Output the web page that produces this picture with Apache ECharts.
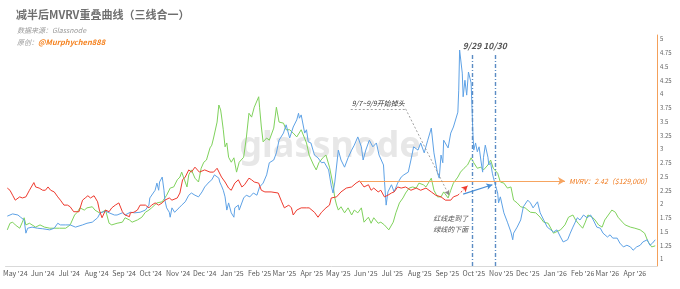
<!DOCTYPE html>
<html><head><meta charset="utf-8">
<script src="https://cdn.jsdelivr.net/npm/echarts@6/dist/echarts.min.js"></script>
<style>html,body{margin:0;padding:0;background:#fff}#c{width:680px;height:289px}</style>
</head><body><div id="c"></div>
<script>
// Days are counted from the 2024 halving (2024-04-20)
const HALVING = '2024-04-20';
const monthTicks = ['2024-05-01','2024-06-01','2024-07-01','2024-08-01','2024-09-01','2024-10-01','2024-11-01','2024-12-01',
  '2025-01-01','2025-02-01','2025-03-01','2025-04-01','2025-05-01','2025-06-01','2025-07-01','2025-08-01','2025-09-01',
  '2025-10-01','2025-11-01','2025-12-01','2026-01-01','2026-02-01','2026-03-01','2026-04-01'];
const monthNames = ['Jan','Feb','Mar','Apr','May','Jun','Jul','Aug','Sep','Oct','Nov','Dec'];
const yTicks = [1,1.25,1.5,1.75,2,2.25,2.5,2.75,3,3.25,3.5,3.75,4,4.25,4.5,4.75,5];

// [dayAfterHalving, MVRV]
const red = [[2,2.29],[5,2.25],[8,2.16],[11,2.07],[16,2.13],[19,2.11],[23,2.13],[27,2.25],[32,2.39],[34,2.31],[38,2.29],[42,2.25],[45,2.25],[48,2.31],[51,2.25],[55,2.22],[59,2.13],[62,2.07],[66,1.98],[70,1.98],[73,1.95],[77,1.86],[79,1.84],[83,1.86],[87,2.07],[90,2.11],[93,2.15],[96,2.11],[100,2.15],[104,2.04],[106,1.89],[109,1.75],[113,1.89],[117,1.86],[120,1.93],[124,1.98],[128,2.02],[132,1.86],[135,1.80],[140,1.77],[141,1.84],[145,1.85],[149,1.89],[152,1.98],[158,1.98],[162,1.93],[165,1.98],[169,2.02],[173,1.98],[177,2.02],[180,2.07],[185,2.11],[188,2.07],[194,2.11],[197,2.20],[200,2.44],[203,2.49],[207,2.62],[210,2.58],[214,2.67],[216,2.69],[219,2.58],[225,2.62],[231,2.58],[235,2.58],[239,2.65],[241,2.67],[244,2.49],[248,2.40],[252,2.29],[255,2.25],[259,2.38],[263,2.44],[267,2.31],[270,2.35],[275,2.47],[278,2.44],[281,2.40],[286,2.38],[289,2.25],[293,2.22],[300,2.22],[308,2.20],[312,2.04],[315,1.93],[320,1.98],[323,1.93],[325,1.80],[329,1.89],[334,1.93],[340,1.93],[343,1.93],[349,1.85],[353,1.76],[357,1.85],[362,1.93],[366,1.98],[368,2.11],[374,2.13],[379,2.22],[385,2.29],[391,2.31],[396,2.38],[400,2.42],[405,2.31],[410,2.35],[413,2.25],[416,2.29],[421,2.22],[424,2.25],[428,2.13],[432,2.16],[436,2.20],[439,2.22],[443,2.31],[447,2.29],[452,2.31],[458,2.25],[464,2.29],[469,2.25],[475,2.29],[481,2.22],[486,2.16],[492,2.13],[497,2.07],[503,2.07],[506,2.13],[511,2.16]];

const green = [[2,1.53],[5,1.65],[8,1.67],[11,1.62],[16,1.56],[19,1.67],[21,1.75],[23,1.62],[27,1.65],[30,1.62],[34,1.58],[39,1.62],[44,1.58],[50,1.56],[55,1.56],[61,1.56],[68,1.56],[73,1.62],[78,1.80],[81,1.85],[84,1.93],[89,1.89],[92,1.93],[98,1.95],[101,1.89],[106,1.84],[109,1.85],[113,1.89],[117,1.65],[120,1.62],[126,1.65],[132,1.67],[135,1.75],[140,1.71],[143,1.67],[149,1.71],[154,1.76],[158,1.85],[162,1.89],[165,1.93],[171,2.02],[177,2.04],[182,2.16],[186,2.29],[190,2.31],[194,2.44],[197,2.49],[199,2.58],[203,2.40],[205,2.31],[207,2.53],[210,2.62],[214,2.47],[218,2.40],[221,2.65],[224,2.76],[227,2.80],[231,3.02],[233,3.07],[235,3.20],[239,3.49],[241,3.80],[243,3.71],[244,3.60],[246,3.35],[248,3.04],[250,3.11],[252,2.85],[255,2.76],[258,2.84],[261,2.58],[264,2.76],[269,2.85],[272,3.20],[275,3.65],[278,3.58],[281,3.76],[286,3.95],[287,3.76],[289,3.40],[291,3.13],[295,3.20],[298,3.16],[303,3.38],[306,3.76],[309,3.49],[314,3.47],[317,3.35],[321,3.35],[325,3.29],[329,3.22],[334,3.35],[340,3.11],[343,2.89],[348,2.71],[351,2.62],[354,2.75],[359,2.85],[362,2.89],[366,2.67],[370,2.35],[372,2.11],[374,1.98],[376,1.89],[379,1.95],[383,1.84],[387,1.93],[391,1.80],[394,1.89],[398,1.84],[402,1.93],[405,1.67],[410,1.76],[413,1.65],[416,1.75],[421,1.65],[424,1.67],[428,1.62],[433,1.53],[438,1.67],[441,1.84],[445,2.02],[449,2.11],[452,2.20],[456,2.29],[460,2.31],[464,2.29],[467,2.38],[472,2.35],[475,2.31],[481,2.47],[484,2.25],[488,2.13],[492,2.13],[495,2.22],[500,2.11],[503,2.25],[506,2.38],[511,2.49],[514,2.58],[518,2.65],[522,2.71],[526,2.84],[529,2.75],[533,2.65],[537,2.67],[540,2.62],[545,2.71],[548,2.80],[551,2.65],[556,2.56],[559,2.40],[563,2.38],[567,2.29],[571,2.31],[574,2.07],[578,2.02],[582,1.95],[587,1.93],[593,1.85],[599,1.84],[604,1.76],[608,1.67],[613,1.65],[619,1.47],[621,1.49],[627,1.53],[632,1.62],[636,1.76],[641,1.80],[644,1.71],[647,1.65],[652,1.56],[655,1.67],[658,1.80],[663,1.76],[666,1.71],[670,1.62],[674,1.58],[677,1.71],[681,1.80],[685,1.89],[689,1.85],[692,1.76],[697,1.67],[700,1.62],[706,1.58],[711,1.56],[717,1.53],[722,1.47],[726,1.31],[730,1.22],[734,1.24]];

const blue = [[2,1.78],[8,1.82],[14,1.80],[17,1.76],[21,1.71],[23,1.47],[25,1.56],[30,1.58],[36,1.56],[42,1.55],[50,1.53],[55,1.56],[59,1.65],[62,1.62],[68,1.62],[73,1.62],[79,1.58],[87,1.62],[92,1.65],[98,1.67],[104,1.75],[107,1.84],[113,1.87],[117,1.84],[123,1.80],[126,1.80],[132,1.84],[135,1.80],[141,1.85],[146,1.84],[152,1.85],[158,1.89],[162,1.98],[163,2.11],[165,2.13],[169,2.25],[171,2.38],[173,2.25],[174,2.40],[177,2.49],[179,2.25],[180,2.07],[182,1.93],[185,1.85],[186,1.76],[188,1.93],[191,1.85],[196,1.93],[199,1.98],[203,2.04],[207,2.16],[210,2.20],[214,2.16],[218,2.13],[222,2.22],[225,2.31],[230,2.40],[233,2.44],[236,2.53],[241,2.47],[242,2.40],[244,2.33],[246,2.25],[248,2.13],[250,1.89],[252,2.02],[255,1.84],[258,1.76],[259,1.93],[263,1.98],[264,1.89],[269,2.11],[272,2.16],[276,2.13],[280,2.20],[284,2.16],[287,2.31],[291,2.38],[295,2.53],[298,2.75],[303,2.80],[306,2.93],[309,3.16],[314,3.29],[317,3.44],[321,3.20],[325,3.40],[329,3.53],[331,3.65],[332,3.56],[334,3.62],[338,3.29],[340,3.35],[342,3.13],[345,3.11],[349,2.89],[353,2.84],[357,2.75],[360,2.76],[365,2.62],[368,2.33],[370,2.20],[372,2.40],[376,2.98],[379,2.80],[383,2.67],[387,2.84],[391,2.98],[394,3.07],[398,3.22],[402,3.04],[404,2.80],[407,2.98],[411,3.16],[415,3.04],[419,3.11],[422,2.89],[427,2.71],[428,2.44],[430,1.98],[432,2.22],[436,2.35],[439,2.22],[443,2.38],[447,2.49],[450,2.53],[455,2.58],[458,2.80],[461,3.04],[466,2.98],[469,3.11],[473,2.93],[477,3.16],[481,3.38],[484,2.93],[488,2.56],[490,2.47],[492,2.89],[494,2.75],[495,3.16],[500,3.02],[503,3.29],[506,3.40],[511,3.67],[512,4.07],[513,4.80],[516,4.38],[517,3.95],[519,4.25],[521,3.98],[523,4.40],[526,4.20],[528,3.29],[529,2.98],[531,3.11],[533,2.95],[535,3.04],[537,2.80],[539,2.58],[540,2.85],[542,3.07],[545,2.85],[546,2.71],[548,2.75],[550,2.56],[551,2.49],[554,2.31],[556,2.20],[557,2.02],[559,2.13],[563,1.84],[567,1.67],[571,1.49],[573,1.35],[574,1.47],[578,1.58],[582,1.71],[585,1.95],[590,2.07],[593,2.02],[596,1.93],[601,2.04],[604,1.84],[608,1.71],[612,1.58],[616,1.53],[619,1.49],[623,1.53],[627,1.40],[630,1.31],[635,1.35],[638,1.47],[641,1.58],[646,1.75],[649,1.71],[653,1.80],[657,1.75],[661,1.80],[664,1.71],[668,1.58],[672,1.56],[675,1.47],[680,1.40],[683,1.44],[686,1.38],[691,1.38],[694,1.29],[698,1.22],[702,1.25],[706,1.22],[709,1.16],[713,1.22],[717,1.25],[720,1.31],[725,1.35],[728,1.25],[731,1.29],[734,1.35]];

// annotations (data coordinates: day after halving, MVRV)
const vLines = [{day:527, top:4.74, label:'9/29'}, {day:553, top:4.74, label:'10/30'}];
const mvrvMark = {from:400, to:632, value:2.42, label:'MVRV：2.42（$129,000）'};
const turnNote = {from:390, to:452, value:3.73, endDay:501, endValue:2.16, label:'9/7~9/9开始掉头'};
const redArrow = [[511,2.16],[522,2.33]];
const blueArrow = [[517,2.18],[550,2.35]];
const crossNote = {day:503, value:1.645, label:'红线走到了\n绿线的下面'};
const axisRange = {dayMin:0, dayMax:736, yMin:0.873, yMax:5.073};

const DAY = 86400000;
const T0 = Date.parse(HALVING);
const t = d => T0 + d * DAY;
const toSeries = arr => arr.map(p => [t(p[0]), p[1]]);
const FONT = '"Noto Sans CJK SC","Noto Sans",sans-serif';

const vStyle = {color:'#5b8cc4', width:1.4, type:[4,2,1,2]};
const grayDash = {color:'#8a8a8a', width:0.8, type:[2,2]};
const noLabel = {show:false};

// markLine pair: line options (style, label) come from the first point
function seg(a, b, lineStyle, label, endSymbol, endSize) {
  return [
    {coord:a, symbol:'none', lineStyle:lineStyle, label:label || noLabel},
    {coord:b, symbol:endSymbol || 'none', symbolSize:endSize || 6}
  ];
}
const markData = [];
vLines.forEach(v => markData.push(seg([t(v.day), axisRange.yMin], [t(v.day), v.top], vStyle,
  {show:true, position:'end', formatter:v.label, color:'#555', fontSize:8.5, fontWeight:'bold', fontStyle:'italic', distance:3, fontFamily:FONT})));
markData.push(seg([t(mvrvMark.from), mvrvMark.value], [t(mvrvMark.to), mvrvMark.value], {color:'#f6a460', width:1, type:'solid'},
  {show:true, position:'end', formatter:mvrvMark.label, color:'#f07a1e', fontSize:7, fontStyle:'italic', distance:4, fontFamily:FONT}, 'arrow', [6,7]));
markData.push(seg([t(turnNote.from), turnNote.value], [t(turnNote.to), turnNote.value], grayDash,
  {show:true, position:'insideMiddleTop', formatter:turnNote.label, color:'#333', fontSize:7, fontStyle:'italic', distance:2, fontFamily:FONT}));
markData.push(seg([t(turnNote.to), turnNote.value], [t(turnNote.endDay), turnNote.endValue], grayDash, null, 'arrow', [4,5]));
markData.push(seg([t(redArrow[0][0]), redArrow[0][1]], [t(redArrow[1][0]), redArrow[1][1]], {color:'#ee3a2e', width:1, type:[2,2]}, null, 'arrow', [5,6]));
markData.push(seg([t(blueArrow[0][0]), blueArrow[0][1]], [t(blueArrow[1][0]), blueArrow[1][1]], {color:'#4a8fd6', width:1.2, type:'solid'}, null, 'arrow', [5,6]));

const chart = echarts.init(document.getElementById('c'), null, {renderer:'canvas'});
chart.setOption({
  animation:false,
  backgroundColor:'#fff',
  textStyle:{fontFamily:FONT},
  grid:{left:3, right:23, top:35, bottom:23, containLabel:false},
  graphic:[
    {type:'text', x:330, y:147, z:0, silent:true,
     style:{text:'glassnode', fontSize:36, fontWeight:'bold', fill:'rgba(185,185,185,0.35)', align:'center', verticalAlign:'middle', fontFamily:'"Noto Sans",sans-serif'}},
    {type:'text', x:16, y:15, style:{text:'减半后MVRV重叠曲线（三线合一）', fontSize:11, fontWeight:'bold', fill:'#6e6e6e', verticalAlign:'middle', fontFamily:FONT}},
    {type:'text', x:17, y:30, style:{text:'数据来源：Glassnode', fontSize:7, fontStyle:'italic', fill:'#9a9a9a', verticalAlign:'middle', fontFamily:FONT}},
    {type:'text', x:17, y:42, style:{text:'{a|原创：}{b|@Murphychen888}', verticalAlign:'middle', fontFamily:FONT,
      rich:{a:{fontSize:7, fontStyle:'italic', fill:'#9a9a9a', fontFamily:FONT}, b:{fontSize:7.5, fontStyle:'italic', fontWeight:'bold', fill:'#f5821f', fontFamily:FONT}}}}
  ],
  xAxis:{
    type:'value', min:t(axisRange.dayMin), max:t(axisRange.dayMax),
    axisLine:{lineStyle:{color:'#d9d9d9', width:1}},
    axisTick:{show:false}, splitLine:{show:false},
    axisLabel:{customValues:monthTicks.map(s => Date.parse(s)), color:'#595959', fontSize:7, margin:4, fontFamily:FONT,
      formatter:v => { const d = new Date(v); return monthNames[d.getUTCMonth()] + " '" + String(d.getUTCFullYear()).slice(2); }}
  },
  yAxis:{
    type:'value', position:'right', min:axisRange.yMin, max:axisRange.yMax,
    axisLine:{show:true, lineStyle:{color:'#f4a05a', width:1}},
    axisTick:{show:false}, splitLine:{show:false},
    axisLabel:{customValues:yTicks, color:'#666', fontSize:6, margin:3, fontFamily:FONT, formatter:v => String(v)}
  },
  series:[
    {name:'green', type:'line', data:toSeries(green), showSymbol:false, symbol:'none', lineStyle:{color:'#7fd25c', width:1}, z:2},
    {name:'blue', type:'line', data:toSeries(blue), showSymbol:false, symbol:'none', lineStyle:{color:'#5ea2e6', width:1}, z:3},
    {name:'red', type:'line', data:toSeries(red), showSymbol:false, symbol:'none', lineStyle:{color:'#ee3a2e', width:1}, z:4,
     markLine:{silent:true, animation:false, data:markData},
     markPoint:{silent:true, animation:false, data:[
       {coord:[t(crossNote.day), crossNote.value], symbol:'circle', symbolSize:1, itemStyle:{color:'rgba(0,0,0,0)'},
        label:{show:true, position:'inside', formatter:crossNote.label, color:'#555', fontSize:7, fontStyle:'italic', lineHeight:11, fontFamily:FONT}}
     ]}}
  ]
});
</script></body></html>
